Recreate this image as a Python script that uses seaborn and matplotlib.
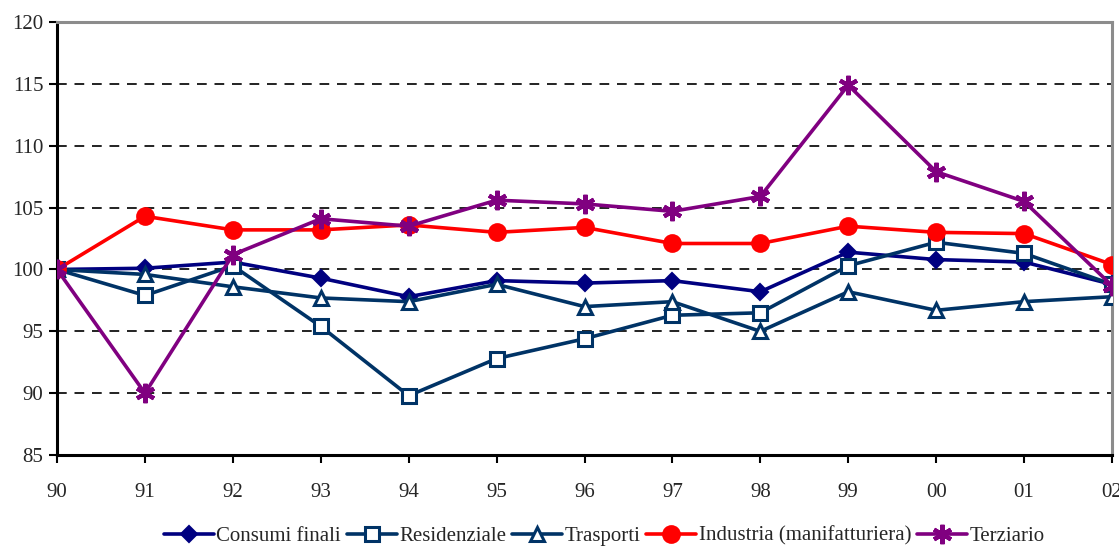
import matplotlib
matplotlib.use("Agg")
import matplotlib.pyplot as plt
import seaborn as sns
import pandas as pd
from matplotlib.lines import Line2D

years = ["90", "91", "92", "93", "94", "95", "96", "97", "98", "99", "00", "01", "02"]

consumi_finali = [100.0, 100.1, 100.6, 99.3, 97.8, 99.1, 98.9, 99.1, 98.2, 101.4, 100.8, 100.6, 98.8]
residenziale = [100.0, 97.9, 100.3, 95.4, 89.8, 92.8, 94.4, 96.3, 96.5, 100.3, 102.2, 101.3, 98.8]
trasporti = [100.0, 99.6, 98.6, 97.7, 97.4, 98.8, 97.0, 97.4, 95.0, 98.2, 96.7, 97.4, 97.8]
industria = [100.0, 104.3, 103.2, 103.2, 103.6, 103.0, 103.4, 102.1, 102.1, 103.5, 103.0, 102.9, 100.4]
terziario = [100.0, 90.0, 101.2, 104.1, 103.5, 105.6, 105.3, 104.7, 105.9, 114.9, 107.9, 105.5, 98.7]

series_names = ["Consumi finali", "Residenziale", "Trasporti",
                "Industria (manifatturiera)", "Terziario"]
series_values = [consumi_finali, residenziale, trasporti, industria, terziario]

styles = {
    "Consumi finali": dict(color="#000080", marker="D", ms=8, mfc="#000080", mec="#000080", mew=1.5),
    "Residenziale": dict(color="#003366", marker="s", ms=10, mfc="white", mec="#003366", mew=2.2),
    "Trasporti": dict(color="#003366", marker="^", ms=10, mfc="white", mec="#003366", mew=2.2),
    "Industria (manifatturiera)": dict(color="#FF0000", marker="o", ms=12, mfc="#FF0000", mec="#FF0000", mew=1.5),
    "Terziario": dict(color="#800080", marker=(6, 2, 0), ms=14, mfc="#800080", mec="#800080", mew=3.0),
}

sns.set_style("white")
plt.rcParams["font.family"] = ["Liberation Serif", "DejaVu Serif"]

fig = plt.figure(figsize=(11.19, 5.47), dpi=100)
ax = fig.add_axes([0.051, 0.168, 0.9427, 0.7918])

xpos = list(range(len(years)))
handles = []
for name, vals in zip(series_names, series_values):
    st = styles[name]
    df = pd.DataFrame({"x": xpos, "y": vals})
    sns.lineplot(data=df, x="x", y="y", ax=ax, color=st["color"], lw=2.6,
                 marker=st["marker"], markersize=st["ms"], markerfacecolor=st["mfc"],
                 markeredgecolor=st["mec"], markeredgewidth=st["mew"], zorder=3,
                 legend=False)
    handles.append(Line2D([], [], color=st["color"], lw=2.6, marker=st["marker"],
                          markersize=st["ms"], markerfacecolor=st["mfc"],
                          markeredgecolor=st["mec"], markeredgewidth=st["mew"]))

ax.set_xlim(0, len(years) - 1)
ax.set_ylim(85, 120)
ax.set_yticks(range(85, 121, 5))
ax.set_xticks(xpos)
ax.set_xticklabels(years)
ax.set_xlabel("")
ax.set_ylabel("")

for yv in range(90, 120, 5):
    ax.axhline(yv, color="#222222", lw=1.4, ls=(0, (5, 4)), zorder=1)

for side in ["left", "bottom"]:
    ax.spines[side].set_color("black")
    ax.spines[side].set_linewidth(2.2)
for side in ["top", "right"]:
    ax.spines[side].set_color("#8c8c8c")
    ax.spines[side].set_linewidth(2.2)

ax.tick_params(axis="y", direction="out", length=6, width=1.5, color="black",
               labelsize=15, pad=4, left=True)
ax.tick_params(axis="x", direction="out", length=6, width=1.5, color="black",
               labelsize=15, pad=14, bottom=True)

fig.legend(handles, series_names, loc="center", bbox_to_anchor=(0.54, 0.02),
           ncol=5, frameon=False, fontsize=15, handlelength=2.4,
           columnspacing=0.3, handletextpad=0.1, borderaxespad=0)

fig.savefig("out.png", dpi=100)
